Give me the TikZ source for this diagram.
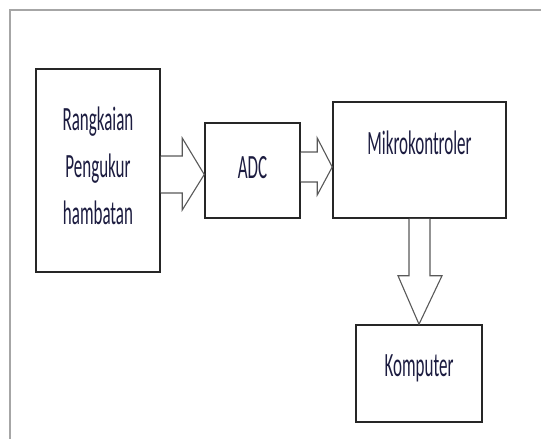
\documentclass[tikz,border=0pt]{standalone}
\usepackage{fontspec}
\setmainfont{Carlito}
\usepackage{xcolor}
\usepackage{tikz}
\usetikzlibrary{positioning, calc}

\definecolor{txtnavy}{RGB}{28,28,64}
\newcommand{\sempit}[1]{\scalebox{0.5}[1]{#1}}

\tikzset{
  blok/.style={draw=black!85, line width=1.5pt, fill=white, rectangle, inner sep=0pt},
  label teks/.style={text=txtnavy, font=\fontsize{34}{47}\selectfont, align=center, inner sep=0pt},
  panah blok/.style={draw=black!65, line width=1.1pt, fill=white, line join=miter}
}

\begin{document}
\begin{tikzpicture}[x=1pt, y=-1pt]
  \useasboundingbox (0,0) rectangle (541,439);
  % outer frame (cut at right and bottom)
  \draw[gray!70, line width=2pt] (10,445) -- (10,10) -- (548,10);
  % blocks
  \node[blok, minimum width=124pt, minimum height=203pt] (rak)   at (98,170.5) {};
  \node[blok, minimum width=95pt,  minimum height=95pt]  (adc)   at (252.5,170.5) {};
  \node[blok, minimum width=173pt, minimum height=116pt] (mikro) at (419.5,160) {};
  \node[blok, minimum width=126pt, minimum height=97pt]  (komp)  at (419,373.5) {};
  % texts
  \node[label teks] (t_rak)   at ($(rak.center)+(0,-5)$)
    {\sempit{Rangkaian}\\\sempit{Pengukur}\\\sempit{hambatan}};
  \node[label teks] (t_adc)   at ($(adc.center)+(0,-3)$) {\sempit{ADC}};
  \node[label teks] (t_mikro) at ($(mikro.center)+(0,-17)$) {\sempit{Mikrokontroler}};
  \node[label teks] (t_komp)  at ($(komp.center)+(0,-5)$) {\sempit{Komputer}};
  % block arrows
  \draw[panah blok] ($(rak.east)+(0,-14.5)$) -- ($(adc.west)+(-22,-14.5)$)
    -- ($(adc.west)+(-22,-32.5)$) -- ($(adc.west)+(0,4)$)
    -- ($(adc.west)+(-22,39.5)$) -- ($(adc.west)+(-22,22.5)$)
    -- ($(rak.east)+(0,22.5)$);
  \coordinate (m2) at (mikro.west |- adc.east);
  \draw[panah blok] ($(adc.east)+(0,-18.5)$) -- ($(m2)+(-15,-18.5)$)
    -- ($(m2)+(-15,-32.5)$) -- ($(m2)+(0,-3.5)$)
    -- ($(m2)+(-15,24.5)$) -- ($(m2)+(-15,11.5)$)
    -- ($(adc.east)+(0,11.5)$);
  \draw[panah blok] ($(mikro.south)+(-10.5,0)$) -- ($(mikro.south)+(-10.5,57)$)
    -- ($(mikro.south)+(-21.5,57)$) -- (komp.north)
    -- ($(mikro.south)+(22.5,57)$) -- ($(mikro.south)+(10.5,57)$)
    -- ($(mikro.south)+(10.5,0)$);
\end{tikzpicture}
\end{document}
